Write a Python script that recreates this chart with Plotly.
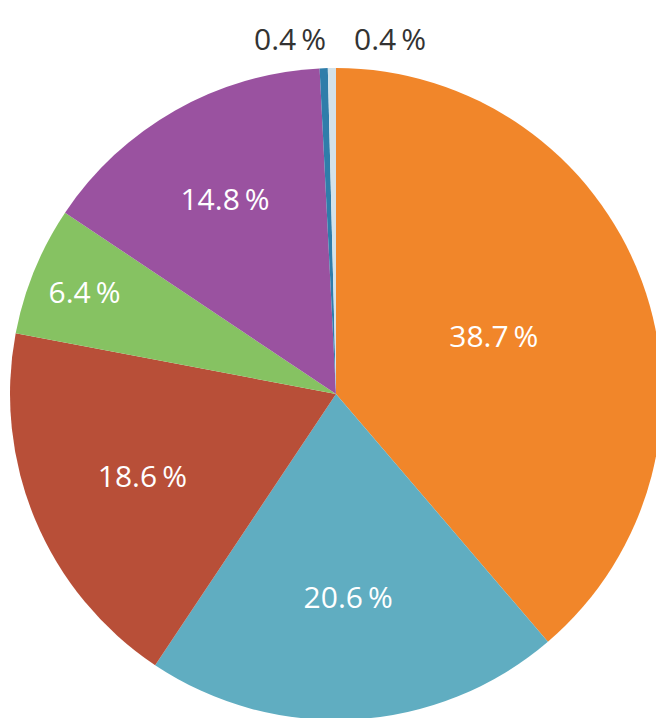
import plotly.graph_objects as go

labels = ["A", "B", "C", "D", "E", "F", "G"]
values = [38.7, 20.6, 18.6, 6.4, 14.8, 0.4, 0.4]
colors = ["#f1862a", "#60adc1", "#b84f38", "#86c262", "#9a52a0", "#2f7daa", "#d3e2ea"]

texts = [f"{v:.1f}\u2009%" for v in values]
positions = ["inside"] * 5 + ["none"] * 2

W, H = 664, 718
L, R, T, B = 1, 9, 60, 6

fig = go.Figure(go.Pie(
    labels=labels,
    values=values,
    text=texts,
    textinfo="text",
    textposition=positions,
    sort=False,
    direction="clockwise",
    rotation=0,
    marker=dict(colors=colors, line=dict(width=0)),
    insidetextfont=dict(color="white", size=30, family="Open Sans"),
    insidetextorientation="horizontal",
    showlegend=False,
    hoverinfo="none",
))

# labels for the two tiny slices, placed side by side above the pie (pixel centres)
for txt, xpix in zip(texts[5:], [282, 382]):
    ypix = 30
    fig.add_annotation(
        text=txt,
        x=(xpix - L) / (W - L - R),
        y=(H - B - ypix) / (H - T - B),
        xref="paper", yref="paper",
        showarrow=False, font=dict(color="#333333", size=30, family="Open Sans"),
        xanchor="center", yanchor="middle",
    )

fig.update_layout(
    width=W, height=H,
    margin=dict(l=L, r=R, t=T, b=B),
    paper_bgcolor="white",
    plot_bgcolor="white",
)

fig.write_html("out.html")
